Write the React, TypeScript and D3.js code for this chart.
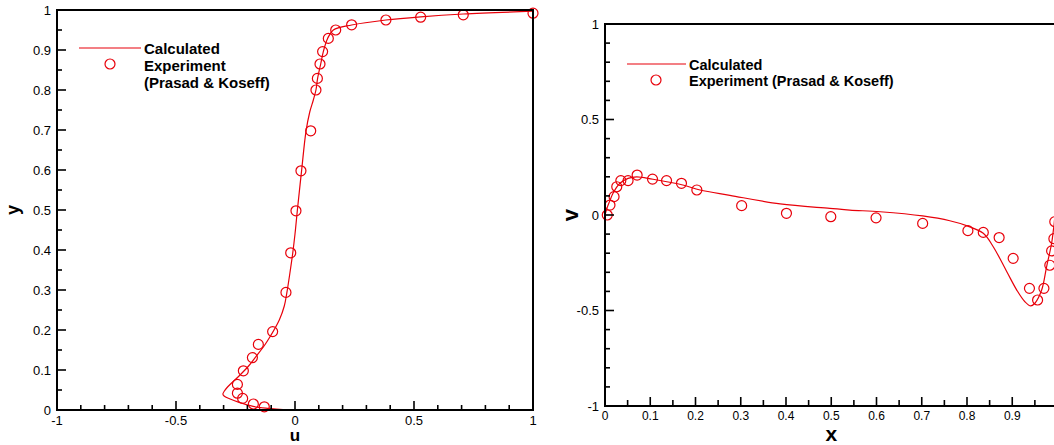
import React from "react";
import * as d3 from "d3";

// ---------- Left panel data: u-velocity profile along vertical centreline ----------
const calcU = [0, -0.05, -0.11, -0.176, -0.235, -0.275, -0.298, -0.303, -0.296, -0.287, -0.262, -0.231, -0.195, -0.161, -0.13, -0.105, -0.066, -0.045, -0.034, -0.022, -0.01, 0.0, 0.01, 0.028, 0.046, 0.062, 0.077, 0.088, 0.095, 0.108, 0.119, 0.137, 0.161, 0.238, 0.382, 0.528, 0.707, 1.0];
const calcY = [0, 0.001, 0.004, 0.009, 0.019, 0.028, 0.035, 0.04, 0.048, 0.055, 0.07, 0.0875, 0.11, 0.136, 0.16, 0.183, 0.225, 0.26, 0.294, 0.34, 0.39, 0.44, 0.5, 0.6, 0.696, 0.745, 0.775, 0.8, 0.829, 0.865, 0.896, 0.929, 0.95, 0.9625, 0.975, 0.983, 0.99, 0.997];

const expU = [1.0, 0.707, 0.528, 0.382, 0.238, 0.171, 0.14, 0.116, 0.105, 0.094, 0.088, 0.066, 0.025, 0.004, -0.018, -0.038, -0.094, -0.154, -0.179, -0.217, -0.242, -0.242, -0.22, -0.175, -0.129];
const expY = [0.992, 0.988, 0.982, 0.975, 0.963, 0.95, 0.929, 0.896, 0.865, 0.829, 0.8, 0.698, 0.598, 0.498, 0.393, 0.294, 0.196, 0.164, 0.131, 0.098, 0.064, 0.042, 0.029, 0.015, 0.008];

const leftYTicks = [0, 0.1, 0.2, 0.3, 0.4, 0.5, 0.6, 0.7, 0.8, 0.9, 1];
const leftYTickLabels = ["0", "0.1", "0.2", "0.3", "0.4", "0.5", "0.6", "0.7", "0.8", "0.9", "1"];
const leftXTicks = [-1, -0.5, 0, 0.5, 1];
const leftXTickLabels = ["-1", "-0.5", "0", "0.5", "1"];

// ---------- Right panel data: v-velocity profile along horizontal centreline ----------
const calcX = [0, 0.005, 0.01, 0.018, 0.033, 0.051, 0.07, 0.106, 0.172, 0.21, 0.276, 0.387, 0.497, 0.541, 0.608, 0.702, 0.762, 0.802, 0.836, 0.858, 0.888, 0.91, 0.928, 0.941, 0.95, 0.965, 0.976, 0.987, 0.992, 0.996, 1.0];
const calcV = [0, 0.04, 0.07, 0.115, 0.166, 0.192, 0.2, 0.187, 0.157, 0.131, 0.103, 0.058, 0.035, 0.026, 0.017, -0.005, -0.03, -0.058, -0.096, -0.166, -0.297, -0.393, -0.454, -0.476, -0.462, -0.393, -0.27, -0.148, -0.06, 0.0, 0.0];

const expX = [0.005, 0.011, 0.02, 0.026, 0.035, 0.051, 0.071, 0.105, 0.136, 0.169, 0.203, 0.302, 0.401, 0.499, 0.599, 0.702, 0.802, 0.836, 0.871, 0.902, 0.938, 0.956, 0.97, 0.983, 0.987, 0.992, 0.994];
const expV = [0.0, 0.052, 0.096, 0.148, 0.18, 0.18, 0.209, 0.188, 0.18, 0.166, 0.131, 0.049, 0.009, -0.009, -0.015, -0.044, -0.082, -0.091, -0.118, -0.227, -0.384, -0.445, -0.384, -0.263, -0.188, -0.124, -0.035];

const rightYTicks = [-1, -0.5, 0, 0.5, 1];
const rightYTickLabels = ["-1", "-0.5", "0", "0.5", "1"];
const rightXTicks = [0, 0.1, 0.2, 0.3, 0.4, 0.5, 0.6, 0.7, 0.8, 0.9, 1];
const rightXTickLabels = ["0", "0.1", "0.2", "0.3", "0.4", "0.5", "0.6", "0.7", "0.8", "0.9", "1"];

const legendCalc = "Calculated";
const legendExp = "Experiment";
const legendRef = "(Prasad & Koseff)";

const FONT = "'Liberation Sans', Arial, Helvetica, sans-serif";
const RED = "#e8000a";
const W = 1054;
const H = 445;

function range(a: number, b: number, step: number) {
  const out: number[] = [];
  for (let v = a; v <= b + 1e-9; v += step) out.push(Math.round(v * 1000) / 1000);
  return out;
}

export default function App() {
  // Left scales
  const xL = d3.scaleLinear().domain([-1, 1]).range([57, 533]);
  const yL = d3.scaleLinear().domain([0, 1]).range([410, 10]);
  // Right scales (panel extends past the right edge of the picture)
  const xR = d3.scaleLinear().domain([0, 1]).range([605, 1057.5]);
  const yR = d3.scaleLinear().domain([-1, 1]).range([406, 24]);

  const lineL = d3
    .line<number>()
    .x((_, i) => xL(calcU[i]))
    .y((_, i) => yL(calcY[i]))
    .curve(d3.curveCatmullRom.alpha(0.5));
  const lineR = d3
    .line<number>()
    .x((_, i) => xR(calcX[i]))
    .y((_, i) => yR(calcV[i]))
    .curve(d3.curveCatmullRom.alpha(0.5));

  const leftYMinor = range(0.05, 0.95, 0.1);
  const leftXMinor = range(-1, 1, 0.1).filter((v) => Math.abs(v * 2 - Math.round(v * 2)) > 1e-6);
  const rightYMinor = range(-1, 1, 0.1).filter((v) => Math.abs(v * 2 - Math.round(v * 2)) > 1e-6);
  const rightXMinor = range(0.05, 0.95, 0.1);

  const tickW = 1.6;

  return (
    <svg
      width={W}
      height={H}
      style={{ position: "absolute", left: 0, top: 0, background: "#fff" }}
      fontFamily={FONT}
    >
      <rect x={0} y={0} width={W} height={H} fill="#fff" />

      {/* ================= LEFT PANEL ================= */}
      <g>
        <path d={lineL(calcU) || ""} fill="none" stroke={RED} strokeWidth={1.2} />
        {expU.map((u, i) => (
          <circle key={i} cx={xL(u)} cy={yL(expY[i])} r={5} fill="none" stroke={RED} strokeWidth={1.2} />
        ))}
        <rect x={xL(-1)} y={yL(1)} width={xL(1) - xL(-1)} height={yL(0) - yL(1)} fill="none" stroke="#000" strokeWidth={2} />
        {leftYTicks.map((t, i) => (
          <g key={"ly" + i}>
            <line x1={xL(-1)} x2={xL(-1) + 9} y1={yL(t)} y2={yL(t)} stroke="#000" strokeWidth={tickW} />
            <text x={xL(-1) - 6} y={yL(t)} dy="0.35em" textAnchor="end" fontSize={13}>
              {leftYTickLabels[i]}
            </text>
          </g>
        ))}
        {leftYMinor.map((t, i) => (
          <line key={"lym" + i} x1={xL(-1)} x2={xL(-1) + 5} y1={yL(t)} y2={yL(t)} stroke="#000" strokeWidth={tickW} />
        ))}
        {leftXTicks.map((t, i) => (
          <g key={"lx" + i}>
            <line x1={xL(t)} x2={xL(t)} y1={yL(0)} y2={yL(0) - 9} stroke="#000" strokeWidth={tickW} />
            <text x={xL(t)} y={425} textAnchor="middle" fontSize={13}>
              {leftXTickLabels[i]}
            </text>
          </g>
        ))}
        {leftXMinor.map((t, i) => (
          <line key={"lxm" + i} x1={xL(t)} x2={xL(t)} y1={yL(0)} y2={yL(0) - 5} stroke="#000" strokeWidth={tickW} />
        ))}
        <text x={xL(0)} y={441} textAnchor="middle" fontSize={17} fontWeight="bold">u</text>
        <text transform={`translate(19,${yL(0.5)}) rotate(-90)`} textAnchor="middle" fontSize={18} fontWeight="bold">y</text>
        <line x1={79} x2={141} y1={48} y2={48} stroke={RED} strokeWidth={1.2} />
        <circle cx={110} cy={64} r={5} fill="none" stroke={RED} strokeWidth={1.2} />
        <text x={144} y={54} fontSize={15} fontWeight="bold">{legendCalc}</text>
        <text x={144} y={71} fontSize={15} fontWeight="bold">{legendExp}</text>
        <text x={144} y={88} fontSize={15} fontWeight="bold">{legendRef}</text>
      </g>

      {/* ================= RIGHT PANEL ================= */}
      <g>
        <path d={lineR(calcX) || ""} fill="none" stroke={RED} strokeWidth={1.2} />
        {expX.map((x, i) => (
          <circle key={i} cx={xR(x)} cy={yR(expV[i])} r={5} fill="none" stroke={RED} strokeWidth={1.2} />
        ))}
        <rect x={xR(0)} y={yR(1)} width={xR(1) - xR(0)} height={yR(-1) - yR(1)} fill="none" stroke="#000" strokeWidth={2} />
        {rightYTicks.map((t, i) => (
          <g key={"ry" + i}>
            <line x1={xR(0)} x2={xR(0) + 9} y1={yR(t)} y2={yR(t)} stroke="#000" strokeWidth={tickW} />
            <text x={xR(0) - 6} y={yR(t)} dy="0.35em" textAnchor="end" fontSize={13}>
              {rightYTickLabels[i]}
            </text>
          </g>
        ))}
        {rightYMinor.map((t, i) => (
          <line key={"rym" + i} x1={xR(0)} x2={xR(0) + 5} y1={yR(t)} y2={yR(t)} stroke="#000" strokeWidth={tickW} />
        ))}
        {rightXTicks.map((t, i) => (
          <g key={"rx" + i}>
            <line x1={xR(t)} x2={xR(t)} y1={yR(-1)} y2={yR(-1) - 9} stroke="#000" strokeWidth={tickW} />
            {xR(t) + 4 < W ? (
              <text x={xR(t)} y={419.5} textAnchor="middle" fontSize={12}>
                {rightXTickLabels[i]}
              </text>
            ) : null}
          </g>
        ))}
        {rightXMinor.map((t, i) => (
          <line key={"rxm" + i} x1={xR(t)} x2={xR(t)} y1={yR(-1)} y2={yR(-1) - 6} stroke="#000" strokeWidth={tickW} />
        ))}
        <text x={xR(0.5)} y={441} textAnchor="middle" fontSize={21} fontWeight="bold">x</text>
        <text transform={`translate(578,${yR(0)}) rotate(-90)`} textAnchor="middle" fontSize={22} fontWeight="bold">v</text>
        <line x1={627} x2={686} y1={64} y2={64} stroke={RED} strokeWidth={1.2} />
        <circle cx={656} cy={80} r={5} fill="none" stroke={RED} strokeWidth={1.2} />
        <text x={689} y={70} fontSize={14.5} fontWeight="bold">{legendCalc}</text>
        <text x={689} y={86} fontSize={14.5} fontWeight="bold">{legendExp + " " + legendRef}</text>
      </g>
    </svg>
  );
}
